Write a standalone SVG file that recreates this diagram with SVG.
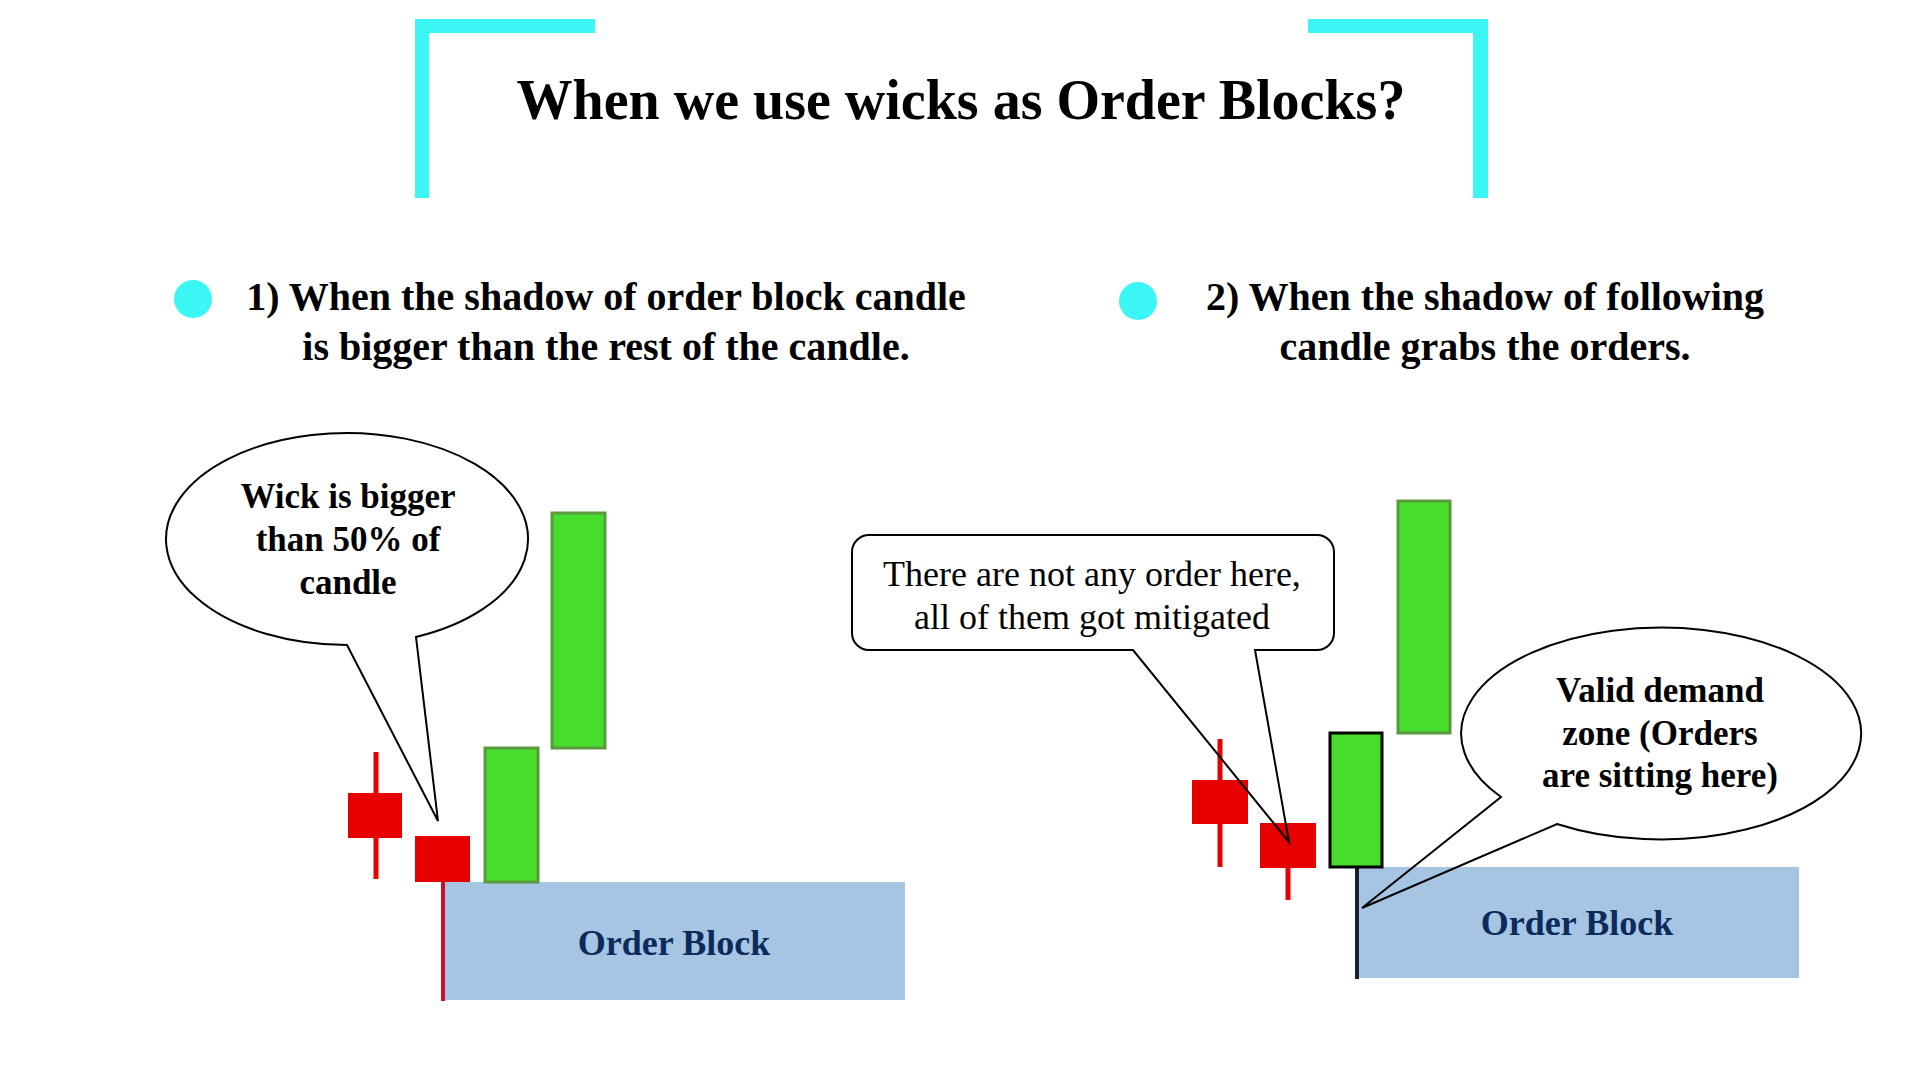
<svg xmlns="http://www.w3.org/2000/svg" width="1920" height="1080" viewBox="0 0 1920 1080">
  <style>
    .bracket { fill: #3CF5F5; }
    .title { font-family: "Liberation Serif", "Times New Roman", serif; font-weight: bold; font-size: 56px; fill: #000; }
    .head { font-family: "Liberation Serif", "Times New Roman", serif; font-weight: bold; font-size: 40px; fill: #000; }
    .bubble { font-family: "Liberation Serif", "Times New Roman", serif; font-weight: bold; font-size: 35px; fill: #000; }
    .note { font-family: "Liberation Serif", "Times New Roman", serif; font-size: 36px; fill: #000; }
    .ob { fill: #A5C5E3; }
    .obtxt { font-family: "Liberation Serif", "Times New Roman", serif; font-weight: bold; font-size: 36px; fill: #0D2A5C; }
    .red { fill: #E60000; }
    .wick { stroke: #E60000; stroke-width: 5; }
    .green { fill: #47DD2D; stroke: #5A9A3C; stroke-width: 3; }
    .greenb { fill: #47DD2D; stroke: #000; stroke-width: 3; }
    .dot { fill: #3CF5F5; }
    .outline { fill: none; stroke: #000; stroke-width: 2; stroke-linejoin: miter; }
  </style>
  <rect x="0" y="0" width="1920" height="1080" fill="#FFFFFF"/>

  <g id="title">
    <path class="bracket" d="M415 19 H595 V33 H429 V198 H415 Z"/>
    <path class="bracket" d="M1308 19 H1488 V198 H1473 V33 H1308 Z"/>
    <text class="title" x="961" y="119" text-anchor="middle">When we use wicks as Order Blocks?</text>
  </g>

  <g id="point1">
    <circle class="dot" cx="193" cy="299" r="19"/>
    <text class="head" text-anchor="middle"><tspan x="606" y="310">1) When the shadow of order block candle</tspan><tspan x="606" y="360">is bigger than the rest of the candle.</tspan></text>
  </g>

  <g id="point2">
    <circle class="dot" cx="1138" cy="301" r="19"/>
    <text class="head" text-anchor="middle"><tspan x="1485" y="310">2) When the shadow of following</tspan><tspan x="1485" y="360">candle grabs the orders.</tspan></text>
  </g>

  <!-- Left example -->
  <g id="left-orderblock">
    <rect class="ob" x="443" y="882" width="462" height="118"/>
    <text class="obtxt" x="674" y="955" text-anchor="middle">Order Block</text>
  </g>
  <g id="left-candle1">
    <line class="wick" x1="376" y1="752" x2="376" y2="879"/>
    <rect class="red" x="348" y="793" width="54" height="45"/>
  </g>
  <g id="left-candle2">
    <line x1="443" y1="880" x2="443" y2="1001" stroke="#C8102E" stroke-width="4"/>
    <rect class="red" x="415" y="836" width="55" height="46"/>
  </g>
  <g id="left-candle3">
    <rect class="green" x="485" y="748" width="53" height="134"/>
  </g>
  <g id="left-candle4">
    <rect class="green" x="552" y="513" width="53" height="235"/>
  </g>
  <g id="left-bubble">
    <path class="outline" d="M416 637 A181 106 0 1 0 347 645 L438 821 Z"/>
    <text class="bubble" text-anchor="middle"><tspan x="348" y="508">Wick is bigger</tspan><tspan x="348" y="551">than 50% of</tspan><tspan x="348" y="594">candle</tspan></text>
  </g>

  <!-- Right example -->
  <g id="right-orderblock">
    <rect class="ob" x="1358" y="867" width="441" height="111"/>
    <text class="obtxt" x="1577" y="935" text-anchor="middle">Order Block</text>
  </g>
  <g id="right-candle1">
    <line class="wick" x1="1220" y1="739" x2="1220" y2="867"/>
    <rect class="red" x="1192" y="780" width="56" height="44"/>
  </g>
  <g id="right-candle2">
    <line class="wick" x1="1288" y1="866" x2="1288" y2="900"/>
    <rect class="red" x="1260" y="823" width="56" height="45"/>
  </g>
  <g id="right-candle3">
    <line x1="1357" y1="866" x2="1357" y2="979" stroke="#1A1F2E" stroke-width="4"/>
    <rect class="greenb" x="1330" y="733" width="52" height="134"/>
  </g>
  <g id="right-candle4">
    <rect class="green" x="1398" y="501" width="52" height="232"/>
  </g>
  <g id="right-callout">
    <path class="outline" d="M869 535 H1317 A17 17 0 0 1 1334 552 V633 A17 17 0 0 1 1317 650 H1255 L1289 842 L1133 650 H869 A17 17 0 0 1 852 633 V552 A17 17 0 0 1 869 535 Z"/>
    <text class="note" text-anchor="middle"><tspan x="1092" y="586">There are not any order here,</tspan><tspan x="1092" y="629">all of them got mitigated</tspan></text>
  </g>
  <g id="right-bubble">
    <path class="outline" d="M1557 824 A200 106 0 1 0 1501 797 L1362 908 Z"/>
    <text class="bubble" text-anchor="middle"><tspan x="1660" y="702">Valid demand</tspan><tspan x="1660" y="745">zone (Orders</tspan><tspan x="1660" y="787">are sitting here)</tspan></text>
  </g>

  <g id="connectors"></g>
</svg>
